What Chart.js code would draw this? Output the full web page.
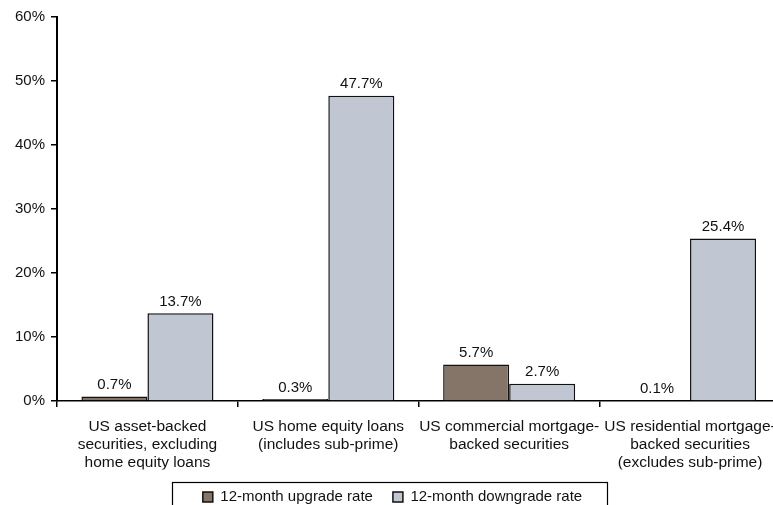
<!DOCTYPE html>
<html>
<head>
<meta charset="utf-8">
<script src="https://cdn.jsdelivr.net/npm/chart.js@4/dist/chart.umd.min.js"></script>
<style>
html,body{margin:0;padding:0;background:#fff;overflow:hidden;}
#wrap{width:787px;height:505px;position:relative;}
</style>
</head>
<body>
<div id="wrap"><canvas id="c"></canvas></div>
<script>
const categories = [
  ["US asset-backed", "securities, excluding", "home equity loans"],
  ["US home equity loans", "(includes sub-prime)"],
  ["US commercial mortgage-", "backed securities"],
  ["US residential mortgage-", "backed securities", "(excludes sub-prime)"]
];
const seriesNames = ["12-month upgrade rate", "12-month downgrade rate"];
const upgradeRate = [0.7, 0.3, 5.7, 0.1];
const downgradeRate = [13.7, 47.7, 2.7, 25.4];
const yTicks = [0, 10, 20, 30, 40, 50, 60];

const FONT = "'Liberation Sans', Arial, sans-serif";

const valueLabels = {
  id: 'valueLabels',
  afterDatasetsDraw(chart) {
    const ctx = chart.ctx;
    ctx.save();
    ctx.font = '15px ' + FONT;
    ctx.fillStyle = '#111';
    ctx.textAlign = 'center';
    ctx.textBaseline = 'bottom';
    chart.data.datasets.forEach((ds, i) => {
      const meta = chart.getDatasetMeta(i);
      meta.data.forEach((bar, j) => {
        ctx.fillText(ds.data[j].toFixed(1) + '%', bar.x, bar.y - 4);
      });
    });
    ctx.restore();
  }
};

const legendFrame = {
  id: 'legendFrame',
  afterDraw(chart) {
    const lg = chart.legend;
    if (!lg) return;
    const ctx = chart.ctx;
    const cx = 390;
    ctx.save();
    ctx.strokeStyle = '#000';
    ctx.lineWidth = 1.2;
    ctx.strokeRect(cx - 217.5, 482.5, 435, 40);
    ctx.restore();
  }
};

new Chart(document.getElementById('c'), {
  type: 'bar',
  data: {
    labels: categories,
    datasets: [
      { label: seriesNames[0], data: upgradeRate, backgroundColor: '#857468', borderColor: '#111', borderWidth: 1.5 },
      { label: seriesNames[1], data: downgradeRate, backgroundColor: '#c0c6d2', borderColor: '#111', borderWidth: 1.5 }
    ]
  },
  options: {
    responsive: true,
    maintainAspectRatio: false,
    animation: false,
    layout: { padding: { top: 17, left: 0, right: 2, bottom: -9.5 } },
    datasets: { bar: { categoryPercentage: 0.73, barPercentage: 1.0 } },
    plugins: {
      tooltip: { enabled: false },
      legend: {
        position: 'bottom',
        labels: {
          font: { size: 15, family: FONT },
          color: '#111',
          boxWidth: 10,
          boxHeight: 10,
          padding: 20,
          useBorderRadius: false
        }
      }
    },
    scales: {
      x: {
        grid: { display: true, drawOnChartArea: false, drawTicks: true, tickLength: 6, color: '#000', lineWidth: 1.5, offset: true },
        border: { display: true, color: '#000', width: 1.5 },
        ticks: { font: { size: 15.5, family: FONT, lineHeight: 1.15 }, color: '#111', padding: 11, maxRotation: 0, minRotation: 0, autoSkip: false },
        afterFit(scale) { scale.height = 68.5; }
      },
      y: {
        min: 0, max: 60,
        afterBuildTicks(scale) { scale.ticks = yTicks.map(v => ({ value: v })); },
        grid: { display: true, drawOnChartArea: false, drawTicks: true, tickLength: 6, color: '#000', lineWidth: 1.5 },
        border: { display: true, color: '#000', width: 2 },
        ticks: { font: { size: 15, family: FONT }, color: '#111', padding: 6, callback: v => v + '%' },
        afterFit(scale) { scale.width = 57; }
      }
    }
  },
  plugins: [valueLabels, legendFrame]
});
</script>
</body>
</html>
